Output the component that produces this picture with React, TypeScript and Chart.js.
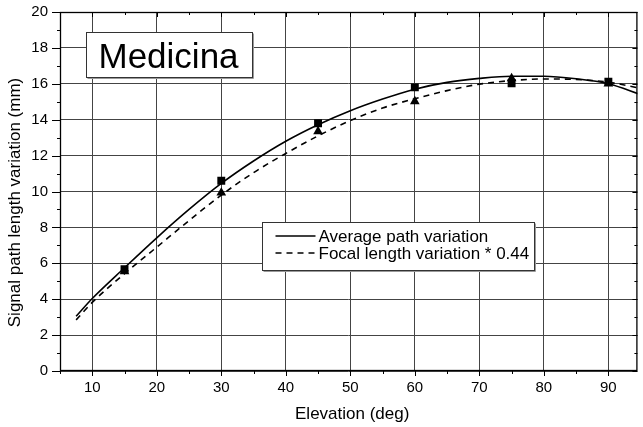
import React, { useEffect, useRef } from 'react';
import { Chart, registerables } from 'chart.js';

Chart.register(...registerables);

// ---- data ----
const curveElevation = [7.5, 10, 15, 20, 25, 30, 35, 40, 45, 50, 55, 60, 65, 70, 75, 80, 85, 90, 95];
const avgPathCurve = [3.05, 4.04, 5.75, 7.42, 9.0, 10.45, 11.7, 12.8, 13.72, 14.5, 15.15, 15.7, 16.08, 16.3, 16.42, 16.42, 16.28, 16.0, 15.4];
const focalCurve = [2.85, 3.82, 5.42, 6.9, 8.38, 9.8, 11.05, 12.12, 13.1, 13.95, 14.65, 15.17, 15.62, 15.98, 16.18, 16.27, 16.24, 16.09, 15.75];

const sampleElevation = [15, 30, 45, 60, 75, 90];
const avgPathSamples = [5.67, 10.6, 13.8, 15.8, 16.03, 16.12];
const focalSamples = [5.55, 9.93, 13.35, 15.02, 16.3, 16.0];

const xMajorTicks = [10, 20, 30, 40, 50, 60, 70, 80, 90];
const yMajorTicks = [0, 2, 4, 6, 8, 10, 12, 14, 16, 18, 20];

const seriesLabels = ['Average path variation', 'Focal length variation * 0.44'];
const stationName = 'Medicina';
const xTitle = 'Elevation (deg)';
const yTitle = 'Signal path length variation (mm)';

const FONT = "'Liberation Sans', Arial, Helvetica, sans-serif";

const framePlugin = {
  id: 'framePlugin',
  afterDraw(chart: any) {
    const { ctx, chartArea: a, scales } = chart;
    const x = scales.x;
    const y = scales.y;
    ctx.save();
    ctx.strokeStyle = '#000';
    ctx.lineWidth = 1;
    ctx.beginPath();
    x.ticks.forEach((t: any) => {
      const px = Math.round(x.getPixelForValue(t.value)) + 0.5;
      const major = xMajorTicks.includes(t.value);
      const len = major ? 5 : 3;
      ctx.moveTo(px, a.bottom);
      ctx.lineTo(px, a.bottom + len);
      ctx.moveTo(px, a.top);
      ctx.lineTo(px, a.top + len);
    });
    y.ticks.forEach((t: any) => {
      const py = Math.round(y.getPixelForValue(t.value)) + 0.5;
      const major = yMajorTicks.includes(t.value);
      ctx.moveTo(a.left - (major ? 8 : 3), py);
      ctx.lineTo(a.left, py);
      ctx.moveTo(a.right, py);
      ctx.lineTo(a.right - (major ? 5 : 3), py);
    });
    ctx.stroke();
    ctx.lineWidth = 1.3;
    ctx.strokeRect(a.left + 0.5, a.top + 0.5, a.right - a.left - 1, a.bottom - a.top - 1);

    // axis titles
    ctx.fillStyle = '#000';
    ctx.font = `17px ${FONT}`;
    ctx.textAlign = 'center';
    ctx.textBaseline = 'middle';
    ctx.fillText(xTitle, (a.left + a.right) / 2 + 3.5, a.bottom + 43);
    ctx.save();
    ctx.translate(15.5, (a.top + a.bottom) / 2 + 11);
    ctx.rotate(-Math.PI / 2);
    ctx.fillText(yTitle, 0, 0);
    ctx.restore();

    // station name box
    const bx = a.left + 26.5;
    const by = a.top + 20.5;
    const bw = 166;
    const bh = 45;
    ctx.fillStyle = '#fff';
    ctx.fillRect(bx, by, bw, bh);
    ctx.strokeStyle = '#999';
    ctx.lineWidth = 1;
    ctx.beginPath();
    ctx.moveTo(bx + bw + 1, by + 1);
    ctx.lineTo(bx + bw + 1, by + bh + 1);
    ctx.lineTo(bx + 1, by + bh + 1);
    ctx.stroke();
    ctx.strokeStyle = '#333';
    ctx.strokeRect(bx, by, bw, bh);
    ctx.fillStyle = '#000';
    ctx.font = `35px ${FONT}`;
    ctx.textBaseline = 'alphabetic';
    ctx.textAlign = 'left';
    ctx.fillText(stationName, bx + 12, by + 35);

    // legend box
    const lx = 262.5;
    const ly = 222.5;
    const lw = 272;
    const lh = 48;
    ctx.fillStyle = '#fff';
    ctx.fillRect(lx, ly, lw, lh);
    ctx.strokeStyle = '#999';
    ctx.beginPath();
    ctx.moveTo(lx + lw + 1, ly + 1);
    ctx.lineTo(lx + lw + 1, ly + lh + 1);
    ctx.lineTo(lx + 1, ly + lh + 1);
    ctx.stroke();
    ctx.strokeStyle = '#333';
    ctx.strokeRect(lx, ly, lw, lh);

    const rows = [236, 253];
    chart.data.datasets.slice(0, 2).forEach((ds: any, i: number) => {
      ctx.strokeStyle = '#000';
      ctx.lineWidth = 1.5;
      ctx.setLineDash(ds.borderDash || []);
      ctx.beginPath();
      ctx.moveTo(lx + 13, rows[i]);
      ctx.lineTo(lx + 53, rows[i]);
      ctx.stroke();
      ctx.setLineDash([]);
      ctx.fillStyle = '#000';
      ctx.font = `17px ${FONT}`;
      ctx.textBaseline = 'middle';
      ctx.textAlign = 'left';
      ctx.fillText(ds.label, lx + 56, rows[i] + 1);
    });
    ctx.restore();
  },
};

export default function App() {
  const ref = useRef<HTMLCanvasElement | null>(null);

  useEffect(() => {
    if (!ref.current) return;
    Chart.defaults.font.family = FONT;
    Chart.defaults.color = '#000';
    const chart = new Chart(ref.current, {
      type: 'scatter',
      data: {
        datasets: [
          {
            label: seriesLabels[0],
            data: curveElevation.map((x, i) => ({ x, y: avgPathCurve[i] })),
            showLine: true,
            borderColor: '#000',
            borderWidth: 1.6,
            pointRadius: 0,
            cubicInterpolationMode: 'monotone',
          },
          {
            label: seriesLabels[1],
            data: curveElevation.map((x, i) => ({ x, y: focalCurve[i] })),
            showLine: true,
            borderColor: '#000',
            borderWidth: 1.6,
            borderDash: [6, 5],
            pointRadius: 0,
            cubicInterpolationMode: 'monotone',
          },
          {
            label: 'avg samples',
            data: sampleElevation.map((x, i) => ({ x, y: avgPathSamples[i] })),
            pointStyle: 'rect',
            pointRadius: 5.6,
            backgroundColor: '#000',
            borderColor: '#000',
            borderWidth: 0,
          },
          {
            label: 'focal samples',
            data: sampleElevation.map((x, i) => ({ x, y: focalSamples[i] })),
            pointStyle: 'triangle',
            pointRadius: 5.6,
            backgroundColor: '#000',
            borderColor: '#000',
            borderWidth: 0,
          },
        ],
      },
      options: {
        animation: false,
        responsive: false,
        devicePixelRatio: 1,
        layout: { padding: { top: 12, right: 1, left: 0, bottom: 0 } },
        plugins: {
          legend: { display: false },
          tooltip: { enabled: false },
        },
        scales: {
          x: {
            type: 'linear',
            min: 5,
            max: 94.5,
            afterFit: (s: any) => {
              s.height = 56;
            },
            ticks: {
              stepSize: 5,
              includeBounds: false,
              autoSkip: false,
              maxRotation: 0,
              padding: 0,
              font: { size: 15 },
              callback: (v: any) => (xMajorTicks.includes(v) ? String(v) : ''),
            },
            grid: {
              drawTicks: true,
              tickLength: 8,
              tickColor: 'rgba(0,0,0,0)',
              color: (c: any) => (c.tick && xMajorTicks.includes(c.tick.value) ? '#444' : 'rgba(0,0,0,0)'),
            },
            border: { display: false },
            title: { display: false },
          },
          y: {
            type: 'linear',
            min: 0,
            max: 20,
            afterFit: (s: any) => {
              s.width = 60;
            },
            ticks: {
              stepSize: 1,
              autoSkip: false,
              padding: 0,
              font: { size: 15 },
              callback: (v: any) => (yMajorTicks.includes(v) ? String(v) : ''),
            },
            grid: {
              drawTicks: true,
              tickLength: 12,
              tickColor: 'rgba(0,0,0,0)',
              color: (c: any) => (c.tick && yMajorTicks.includes(c.tick.value) ? '#444' : 'rgba(0,0,0,0)'),
            },
            border: { display: false },
            title: { display: false },
          },
        },
      } as any,
      plugins: [framePlugin],
    });
    return () => chart.destroy();
  }, []);

  return (
    <div style={{ position: 'absolute', left: 0, top: 0, width: 643, height: 427 }}>
      <canvas ref={ref} width={643} height={427} />
    </div>
  );
}
